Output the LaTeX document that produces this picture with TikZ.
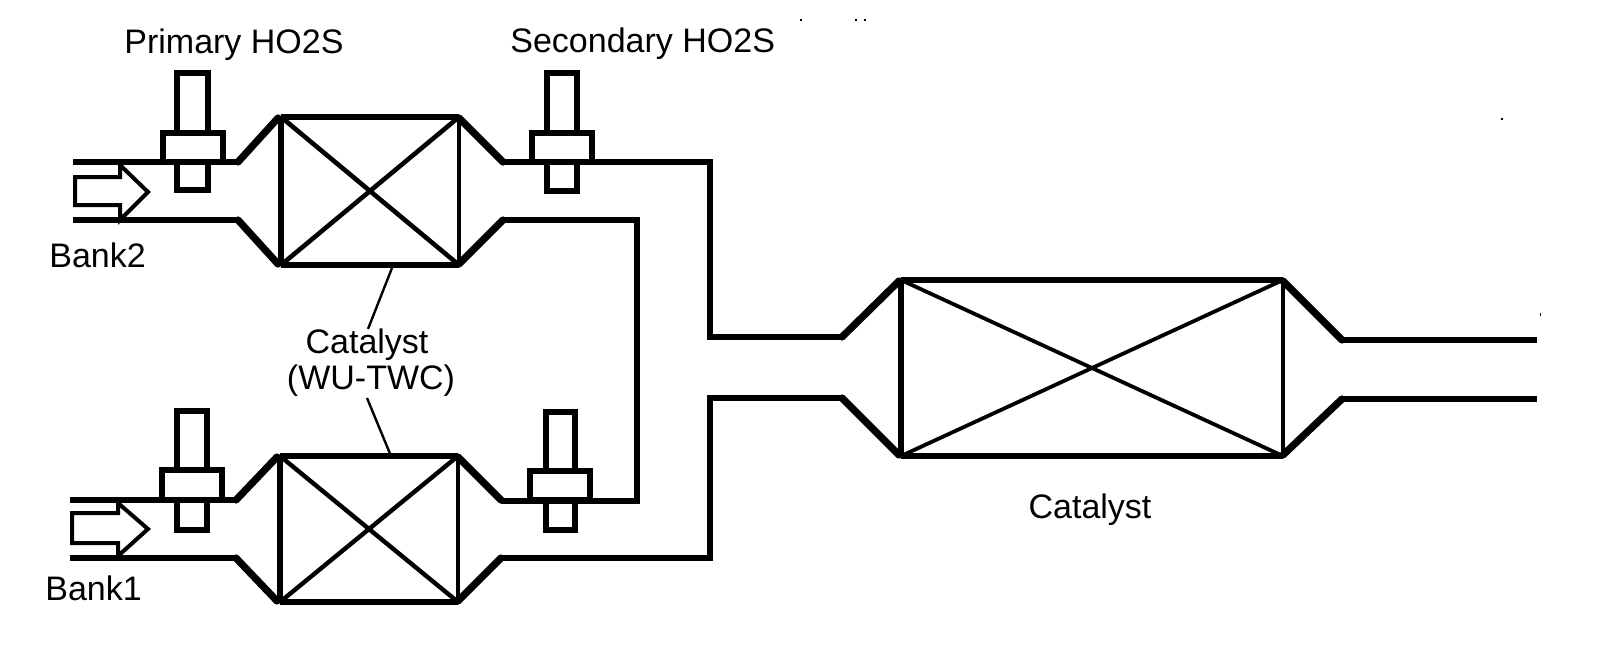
\documentclass[tikz,border=0pt]{standalone}
\usepackage{fontspec}
\setmainfont{Liberation Sans}
\tikzset{
  pipeline/.style={line width=2.7pt,line join=miter,line cap=butt},
  taper/.style={line width=3.6pt,line cap=round},
  shell/.style={line width=2.6pt,line join=miter},
  wall/.style={line width=2.7pt},
  wallthin/.style={line width=2.2pt},
  leader/.style={line width=1.2pt},
  sensor/.style={line width=2.8pt,line join=miter},
  collar/.style={line width=2.9pt,fill=white,line join=miter},
  flow/.style={line width=2pt,line join=miter},
  lbl/.style={font=\fontsize{17}{20}\selectfont,inner sep=0pt,anchor=base west},
  lblc/.style={font=\fontsize{17}{20}\selectfont,inner sep=0pt,anchor=base},
}
% x1 y1 x2 y2 crossline-width
\newcommand{\catbody}[5]{%
  \draw[line width=#5] (#1,#2) -- (#3,#4);
  \draw[line width=#5] (#1,#4) -- (#3,#2);
  \draw[wall] (#1,#2) -- (#1,#4);
  \draw[wallthin] (#3,#2) -- (#3,#4);
  \draw[shell] (#1,#2) -- (#3,#2);
  \draw[shell] (#1,#4) -- (#3,#4);
}
% tube x1 x2 ytop ybot, collar x1 x2 ytop ybot
\newcommand{\hosensor}[8]{%
  \draw[sensor] (#1,#3) rectangle (#2,#4);
  \draw[collar] (#5,#7) rectangle (#6,#8);
}
\begin{document}
\begin{tikzpicture}[x=0.5pt,y=-0.5pt]
\useasboundingbox (0,0) rectangle (1600,664);
% sensors
\hosensor{177}{208}{73}{190}{163}{223}{133}{162}
\hosensor{547}{577}{73}{191}{532}{592}{133}{162}
\hosensor{177}{207}{411}{530}{162}{222}{470}{500}
\hosensor{546}{575}{412}{530}{530}{590}{471}{500}
% upper pre-catalyst
\catbody{281}{117}{459}{265}{2.3pt}
\draw[pipeline] (73,162) -- (240,162);
\draw[pipeline] (73,220) -- (240,220);
\draw[taper] (238,162) -- (278,118);
\draw[taper] (238,220) -- (278,264);
\draw[taper] (459,118) -- (503,162);
\draw[taper] (459,264) -- (503,220);
\draw[pipeline] (501,162) -- (710,162) -- (710,337) -- (842,337);
\draw[pipeline] (501,220) -- (637,220) -- (637,501) -- (501,501);
% lower pre-catalyst
\catbody{280}{456}{458}{602}{2.2pt}
\draw[pipeline] (70,500) -- (238,500);
\draw[pipeline] (70,558) -- (238,558);
\draw[taper] (236,500) -- (277,457);
\draw[taper] (236,558) -- (277,601);
\draw[taper] (458,457) -- (501,500);
\draw[taper] (458,601) -- (501,558);
\draw[pipeline] (499,558) -- (710,558) -- (710,398) -- (842,398);
% main catalyst
\catbody{901}{280}{1283}{456}{1.9pt}
\draw[taper] (842,337) -- (899,281);
\draw[taper] (842,398) -- (899,455);
\draw[taper] (1283,281) -- (1342,340);
\draw[taper] (1283,455) -- (1342,399);
\draw[pipeline] (1340,340) -- (1537,340);
\draw[pipeline] (1340,399) -- (1537,399);
% flow arrows
\draw[flow] (75,177) -- (120,177) -- (120,165) -- (148,192) -- (120,220) -- (120,205) -- (75,205) -- cycle;
\draw[flow] (72,513) -- (118,513) -- (118,503) -- (148,529) -- (118,556) -- (118,543) -- (72,543) -- cycle;
% labels
\node[lbl] (prim) at (124,54) {Primary HO2S};
\node[lbl] (sec) at (510,52) {Secondary HO2S};
\node[lbl] (b2) at (49,267) {Bank2};
\node[lbl] (b1) at (45,600) {Bank1};
\node[lblc] (cat1) at (367,353) {Catalyst};
\node[lblc] (cat2) at (371,389) {(WU-TWC)};
\node[lblc] (cat3) at (1090,518) {Catalyst};
% leaders
\coordinate (lua) at (392,268);
\coordinate (lub) at (368,329);
\coordinate (lla) at (367,398);
\coordinate (llb) at (391,456);
\draw[leader] (lua) -- (lub);
\draw[leader] (lla) -- (llb);
% specks
\fill (800,19) rectangle (802,21);
\fill (855,19) rectangle (857,21);
\fill (864,19) rectangle (866,21);
\fill (1501,118) rectangle (1503,120);
\fill (1540,313) rectangle (1541,316);
\end{tikzpicture}
\end{document}
